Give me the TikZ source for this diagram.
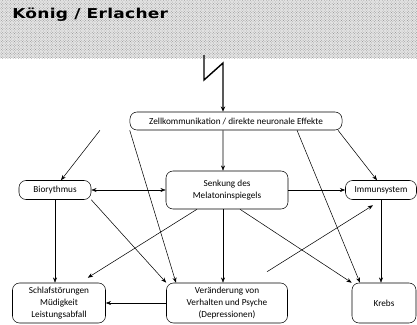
\documentclass[tikz,border=0pt]{standalone}
\usepackage{fontspec}
\setmainfont{Carlito}
\newfontfamily\titlefont[FakeStretch=1.25,LetterSpace=2]{DejaVu Sans}
\usetikzlibrary{arrows.meta,patterns}
\begin{document}
\begin{tikzpicture}[x=0.04cm,y=-0.04cm, line width=0.6pt,
  box/.style={draw, rounded corners=8pt, align=center, inner sep=1pt, font=\fontsize{10.5}{13.5}\selectfont},
  arr/.style={-{Stealth[length=6pt,width=4.5pt]}}]
\useasboundingbox (0,0) rectangle (417,325);
\fill[black!10] (0,0) rectangle (417,58);
\fill[pattern=crosshatch dots, pattern color=black!45] (0,0) rectangle (417,58);
\node[anchor=west, inner sep=0pt, font=\titlefont\bfseries\fontsize{15.5}{15.5}\selectfont] (titel) at (12,15) {König / Erlacher};
% Kaesten
\node[box, minimum width=8.48cm, minimum height=0.72cm] (zell) at (236,121) {Zellkommunikation / direkte neuronale Effekte};
\node[box, minimum width=2.88cm, minimum height=0.76cm] (bio) at (55,190) {Biorythmus};
\node[box, minimum width=4.88cm, minimum height=1.52cm] (senk) at (227,190) {Senkung des\\Melatoninspiegels};
\node[box, minimum width=2.84cm, minimum height=0.76cm] (immun) at (381,190) {Immunsystem};
\node[box, minimum width=3.72cm, minimum height=1.6cm] (schlaf) at (59,303) {Schlafstörungen\\Müdigkeit\\Leistungsabfall};
\node[box, minimum width=4.84cm, minimum height=1.6cm] (verand) at (227,303) {Veränderung von\\Verhalten und Psyche\\(Depressionen)};
\node[box, minimum width=2.56cm, minimum height=1.6cm] (krebs) at (384,303) {Krebs};
% Blitz
\draw[-{Stealth[length=6pt,width=5pt]}, line width=1.6pt] (204,55) -- (204,80) -- (223,63) -- ([xshift=-0.52cm]zell.north);
% Pfeile
\draw[arr] ([xshift=-5.44cm]zell.south) -- ([xshift=0.24cm]bio.north);
\draw[arr] ([xshift=-0.52cm]zell.south) -- ([xshift=-0.16cm]senk.north);
\draw[arr] ([xshift=4.08cm]zell.south) -- ([xshift=-0.16cm]immun.north);
\draw[arr] (zell.south west) -- ([xshift=-2.04cm]verand.north);
\draw[arr] ([xshift=2.44cm]zell.south) -- ([xshift=-0.96cm]krebs.north);
\draw[{Stealth[length=6pt,width=4.5pt]}-{Stealth[length=6pt,width=4.5pt]}] (bio.east) -- (senk.west);
\draw[arr] (senk.east) -- (immun.west);
\draw[arr] (bio.south) -- (bio.south |- schlaf.north);
\draw[arr] (bio.south east) -- (verand.north west);
\draw[arr] ([xshift=-1.2cm]senk.south) -- ([xshift=-0.72cm,yshift=0.2cm]schlaf.north east);
\draw[arr] ([xshift=-0.16cm]senk.south) -- ([xshift=-0.16cm]verand.north);
\draw[arr] ([xshift=0.52cm]senk.south) -- (krebs.north west);
\draw[arr] ([xshift=1.6cm,yshift=0.44cm]verand.north) -- ([xshift=-0.32cm,yshift=-0.22cm]immun.south);
\draw[arr] (immun.south) -- (immun.south |- krebs.north);
\draw[arr] (verand.west) -- (schlaf.east);
\end{tikzpicture}
\end{document}
